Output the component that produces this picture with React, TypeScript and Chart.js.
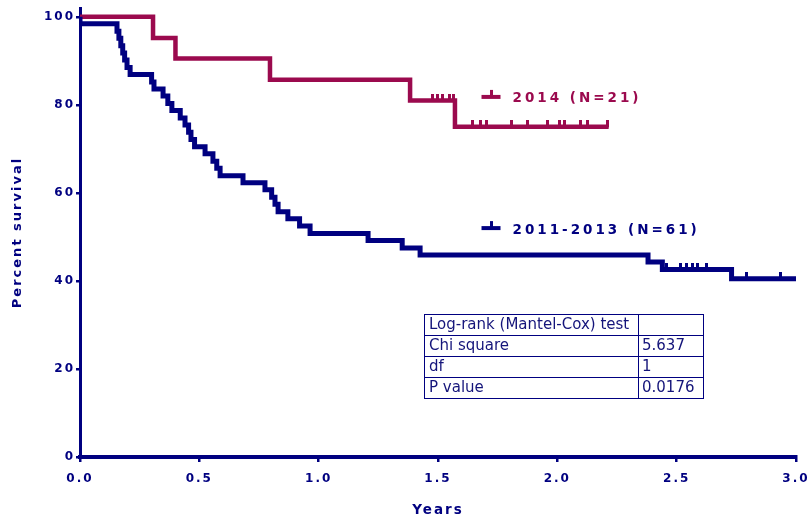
import React, { useEffect, useRef } from 'react';
import { Chart, registerables } from 'chart.js';

Chart.register(...registerables);

const NAVY = '#000080';
const CRIMSON = '#9b0a4e';
const FONT = '"DejaVu Sans", Verdana, sans-serif';

// 2014 (N=21): times (years) of each step and survival (%) after the step
const times2014 = [0, 0.306, 0.4, 0.796, 1.383, 1.571, 2.215];
const surv2014 = [100, 95.2, 90.5, 85.7, 81.0, 75.0, 75.0];
const censored2014 = [1.475, 1.496, 1.517, 1.55, 1.563, 1.646, 1.676, 1.705, 1.81, 1.873, 1.957, 2.011, 2.032, 2.095, 2.128, 2.212];

// 2011-2013 (N=61)
const times1113 = [0, 0, 0.155, 0.163, 0.171, 0.179, 0.187, 0.197, 0.21, 0.3, 0.31, 0.348, 0.368, 0.385, 0.42, 0.44, 0.455, 0.465, 0.48, 0.524, 0.557, 0.573, 0.587, 0.683, 0.775, 0.803, 0.817, 0.83, 0.871, 0.92, 0.964, 1.207, 1.35, 1.425, 2.38, 2.44, 2.73, 3.0];
const surv1113 = [100, 98.4, 96.7, 95.1, 93.4, 91.8, 90.2, 88.5, 86.9, 85.2, 83.6, 82.0, 80.3, 78.7, 77.0, 75.4, 73.8, 72.1, 70.5, 68.9, 67.2, 65.6, 63.9, 62.3, 60.7, 59.0, 57.4, 55.7, 54.1, 52.5, 50.8, 49.2, 47.5, 45.9, 44.3, 42.6, 40.5, 40.5];
const censored1113 = [2.459, 2.514, 2.543, 2.568, 2.589, 2.627, 2.794, 2.933];

const xTickValues = [0, 0.5, 1.0, 1.5, 2.0, 2.5, 3.0];
const yTickValues = [0, 20, 40, 60, 80, 100];

const legendLabels = ['2014 (N=21)', '2011-2013 (N=61)'];
const legendAnchors = [
  { t: 1.72, s: 81.8 },
  { t: 1.72, s: 52.0 },
];

const tableLabels = ['Log-rank (Mantel-Cox) test', 'Chi square', 'df', 'P value'];
const tableValues = ['', '5.637', '1', '0.0176'];

function levelAt(ts: number[], ss: number[], t: number): number {
  let v = ss[0];
  for (let i = 0; i < ts.length; i++) if (ts[i] <= t) v = ss[i];
  return v;
}

function makeTick(color: string): HTMLCanvasElement {
  const c = document.createElement('canvas');
  c.width = 3;
  c.height = 13;
  const g = c.getContext('2d')!;
  g.fillStyle = color;
  g.fillRect(0, 0, 3, 7);
  return c;
}

const spacingPlugin = {
  id: 'spacing',
  beforeDraw(chart: any) {
    chart.ctx.letterSpacing = '2px';
  },
};

const overlayPlugin = {
  id: 'overlay',
  afterDraw(chart: any) {
    const ctx = chart.ctx as CanvasRenderingContext2D;
    const xs = chart.scales.x;
    const ys = chart.scales.y;
    const colors = [CRIMSON, NAVY];
    ctx.save();
    // legend
    legendLabels.forEach((label, i) => {
      const px = xs.getPixelForValue(legendAnchors[i].t);
      const py = ys.getPixelForValue(legendAnchors[i].s);
      ctx.strokeStyle = colors[i];
      ctx.fillStyle = colors[i];
      ctx.lineWidth = 4;
      ctx.beginPath();
      ctx.moveTo(px - 9, py);
      ctx.lineTo(px + 10, py);
      ctx.stroke();
      ctx.fillRect(px - 0.5, py - 7, 3, 7);
      ctx.letterSpacing = '3px';
      ctx.font = `bold 13.5px ${FONT}`;
      ctx.textBaseline = 'middle';
      ctx.textAlign = 'left';
      ctx.fillText(label, px + 22, py + 2);
    });
    // table
    ctx.letterSpacing = '0px';
    const left = 424, top = 314, w1 = 214, w2 = 65, rh = 21;
    ctx.strokeStyle = NAVY;
    ctx.lineWidth = 1;
    ctx.font = `15px ${FONT}`;
    ctx.fillStyle = '#14147a';
    ctx.textBaseline = 'middle';
    tableLabels.forEach((lab, i) => {
      const y = top + i * rh;
      ctx.strokeRect(left + 0.5, y + 0.5, w1, rh);
      ctx.strokeRect(left + w1 + 0.5, y + 0.5, w2, rh);
      ctx.fillText(lab, left + 5, y + rh / 2 + 1);
      ctx.fillText(tableValues[i], left + w1 + 4, y + rh / 2 + 1);
    });
    ctx.restore();
  },
};

export default function App() {
  const ref = useRef<HTMLCanvasElement>(null);
  useEffect(() => {
    if (!ref.current) return;
    const tickRed = makeTick(CRIMSON);
    const tickBlue = makeTick(NAVY);
    const chart = new Chart(ref.current, {
      type: 'line',
      data: {
        datasets: [
          {
            label: legendLabels[1],
            data: times1113.map((t, i) => ({ x: t, y: surv1113[i] })),
            borderColor: NAVY,
            borderWidth: 5,
            stepped: 'before',
            pointRadius: 0,
            fill: false,
          },
          {
            label: legendLabels[0],
            data: times2014.map((t, i) => ({ x: t, y: surv2014[i] })),
            borderColor: CRIMSON,
            borderWidth: 4.5,
            stepped: 'before',
            pointRadius: 0,
            fill: false,
          },
          {
            label: 'censored 2011-2013',
            data: censored1113.map((t) => ({ x: t, y: levelAt(times1113, surv1113, t) })),
            showLine: false,
            pointStyle: tickBlue as any,
            pointRadius: 3,
            borderColor: NAVY,
            backgroundColor: NAVY,
          },
          {
            label: 'censored 2014',
            data: censored2014.map((t) => ({ x: t, y: levelAt(times2014, surv2014, t) })),
            showLine: false,
            pointStyle: tickRed as any,
            pointRadius: 3,
            borderColor: CRIMSON,
            backgroundColor: CRIMSON,
          },
        ],
      },
      options: {
        animation: false,
        responsive: false,
        devicePixelRatio: 1,
        layout: { padding: { left: 0, right: 13, top: 8, bottom: 0 } },
        plugins: {
          legend: { display: false },
          tooltip: { enabled: false },
        },
        scales: {
          x: {
            type: 'linear',
            min: 0,
            max: 3,
            afterBuildTicks: (s: any) => {
              s.ticks = xTickValues.map((v) => ({ value: v }));
            },
            afterFit: (s: any) => {
              s.height = 61;
              s.paddingLeft = 0;
              s.paddingRight = 0;
            },
            ticks: {
              autoSkip: false,
              maxRotation: 0,
              callback: (v: any) => Number(v).toFixed(1),
              color: NAVY,
              font: { family: FONT, size: 12, weight: 'bold' },
              padding: 10,
            },
            grid: {
              display: true,
              drawOnChartArea: false,
              drawTicks: true,
              tickLength: 5,
              color: NAVY,
              lineWidth: 2.5,
            },
            border: { display: true, color: NAVY, width: 4 },
            title: {
              display: true,
              text: 'Years',
              color: NAVY,
              font: { family: FONT, size: 13.5, weight: 'bold' },
              padding: { top: 0, bottom: -1 },
            },
          },
          y: {
            type: 'linear',
            min: 0,
            max: 102,
            afterBuildTicks: (s: any) => {
              s.ticks = yTickValues.map((v) => ({ value: v }));
            },
            afterFit: (s: any) => {
              s.width = 80;
              s.paddingTop = 0;
              s.paddingBottom = 0;
            },
            ticks: {
              color: NAVY,
              font: { family: FONT, size: 12, weight: 'bold' },
              padding: 1,
            },
            grid: {
              display: true,
              drawOnChartArea: false,
              drawTicks: true,
              tickLength: 4,
              color: NAVY,
              lineWidth: 2.5,
            },
            border: { display: true, color: NAVY, width: 3 },
            title: {
              display: true,
              text: 'Percent survival',
              color: NAVY,
              font: { family: FONT, size: 13, weight: 'bold' },
              padding: { top: 10, bottom: 0 },
            },
          },
        },
      },
      plugins: [spacingPlugin, overlayPlugin],
    });
    return () => chart.destroy();
  }, []);
  return (
    <div style={{ position: 'fixed', left: 0, top: 0, width: 809, height: 518, background: '#fff' }}>
      <canvas ref={ref} width={809} height={518} />
    </div>
  );
}
